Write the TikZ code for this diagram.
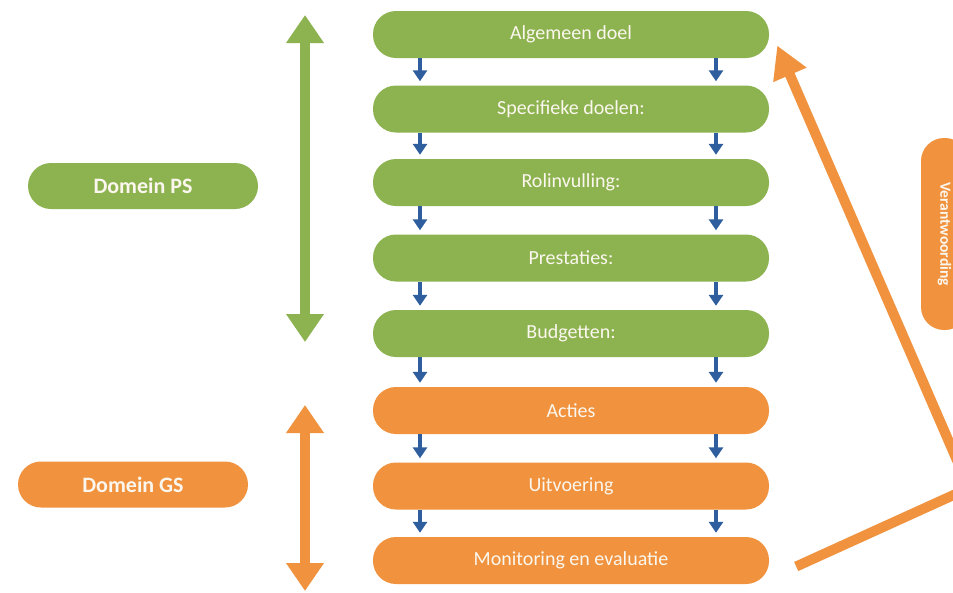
\documentclass[tikz,border=0pt]{standalone}
\usepackage{fontspec}
\setmainfont{Carlito}
\usetikzlibrary{arrows.meta}
\definecolor{pgreen}{HTML}{8DB350}
\definecolor{porange}{HTML}{F0923E}
\definecolor{pblue}{HTML}{2F5E9E}
\definecolor{ptext}{HTML}{FBF7EE}
\begin{document}
\begin{tikzpicture}[x=1pt,y=-1pt,
 stage/.style={rounded corners=23pt, minimum width=396pt, minimum height=47pt, text=ptext, font=\fontsize{20}{23}\selectfont, inner sep=0pt},
 gstage/.style={stage, fill=pgreen},
 ostage/.style={stage, fill=porange},
 domainbox/.style={rounded corners=23pt, minimum width=230pt, minimum height=46pt, text=ptext, font=\fontsize{22}{25}\selectfont\bfseries, inner sep=0pt},
 vbox/.style={rounded corners=23pt, minimum width=192pt, minimum height=47pt, text=ptext, font=\fontsize{15.5}{18}\selectfont\bfseries, inner sep=0pt, rotate=-90, fill=porange},
 flow/.style={pblue, line width=4pt, -{Triangle[width=14pt,length=11pt]}, shorten >=4pt},
 bigarrow/.style={line width=10pt, {Triangle[width=36pt,length=28pt]}-{Triangle[width=36pt,length=28pt]}},
 feedback/.style={porange, line width=10pt, line join=miter, -{Triangle[width=34pt,length=32pt]}},
]
\useasboundingbox (0,0) rectangle (953,592);
\clip (0,0) rectangle (953,592);
\fill[white] (0,0) rectangle (953,592);

% stages
\node[gstage] (alg) at (571,34.5) {Algemeen doel};
\node[gstage] (spe) at (571,109) {Specifieke doelen:};
\node[gstage] (rol) at (571,182.5) {Rolinvulling:};
\node[gstage] (pre) at (571,258) {Prestaties:};
\node[gstage] (bud) at (571,333.5) {Budgetten:};
\node[ostage] (act) at (571,410.5) {Acties};
\node[ostage] (uit) at (571,486) {Uitvoering};
\node[ostage] (mon) at (571,560.5) {Monitoring en evaluatie};

% domains
\node[domainbox, fill=pgreen] (dps) at (143,186) {Domein PS};
\node[domainbox, fill=porange] (dgs) at (133,484.5) {Domein GS};

% verantwoording
\node[vbox] (ver) at (944.5,234) {Verantwoording};

% flow arrows
\foreach \a/\b in {alg/spe,spe/rol,rol/pre,pre/bud,bud/act,act/uit,uit/mon}{
  \draw[flow] ([xshift=-151pt]\a.south) -- ([xshift=-151pt]\b.north);
  \draw[flow] ([xshift=145pt]\a.south) -- ([xshift=145pt]\b.north);
}

% domain range arrows
\coordinate (gtop) at (305,15);
\coordinate (gbot) at (305,342);
\coordinate (otop) at (305,405);
\coordinate (obot) at (305,591);
\draw[bigarrow, pgreen] (gtop) -- (gbot);
\draw[bigarrow, porange] (otop) -- (obot);

% feedback arrow
\coordinate (v) at (969,488);
\draw[feedback] ([shift={(27,6)}]mon.east) -- (v) -- ([shift={(8,11)}]alg.east);
\end{tikzpicture}
\end{document}
